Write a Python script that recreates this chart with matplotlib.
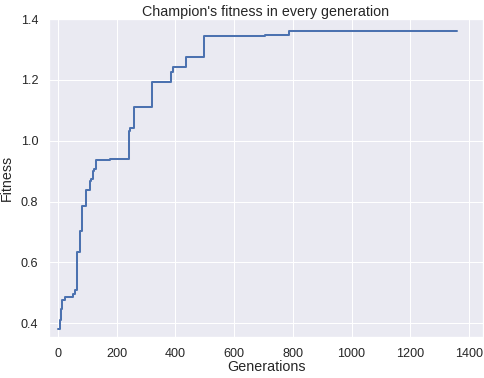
import numpy as np
import matplotlib
matplotlib.use('Agg')
import matplotlib.pyplot as plt
import seaborn as sns


# generation at which the champion changed, and its fitness from then on
generations = [0, 7, 9, 13, 24, 50, 58, 66, 75, 83, 94, 109, 112, 118, 124, 128,
               177, 240, 244, 260, 321, 384, 391, 436, 498, 705, 787, 1358]
fitness = [0.380, 0.410, 0.448, 0.478, 0.486, 0.497, 0.508, 0.634, 0.703, 0.784,
           0.837, 0.867, 0.874, 0.899, 0.907, 0.936, 0.940, 1.033, 1.042, 1.111,
           1.194, 1.227, 1.241, 1.276, 1.344, 1.348, 1.359, 1.359]

x_ticks = [0, 200, 400, 600, 800, 1000, 1200, 1400]
y_ticks = [0.4, 0.6, 0.8, 1.0, 1.2, 1.4]


def main():
    sns.set_theme(style='darkgrid')
    plt.rcParams['font.family'] = ['Liberation Sans', 'DejaVu Sans']

    dpi = 76
    fig = plt.figure(figsize=(484 / dpi, 378 / dpi), dpi=dpi)
    ax = fig.add_axes([49 / 484, 41 / 378, 434 / 484, 318 / 378])

    ax.step(generations, fitness, where='post', color='#4c72b0', linewidth=1.9)

    ax.set_xlim(-31, 1448)
    ax.set_ylim(0.355, 1.400)
    ax.set_xticks(x_ticks)
    ax.set_yticks(y_ticks)
    ax.tick_params(axis='both', labelsize=12, pad=4)

    ax.set_title("Champion's fitness in every generation", fontsize=13.5, pad=3)
    ax.set_xlabel('Generations', fontsize=13.5, labelpad=0)
    ax.set_ylabel('Fitness', fontsize=13.5, labelpad=7)

    fig.savefig('out.png', dpi=dpi)
    plt.close(fig)


if __name__ == '__main__':
    main()
